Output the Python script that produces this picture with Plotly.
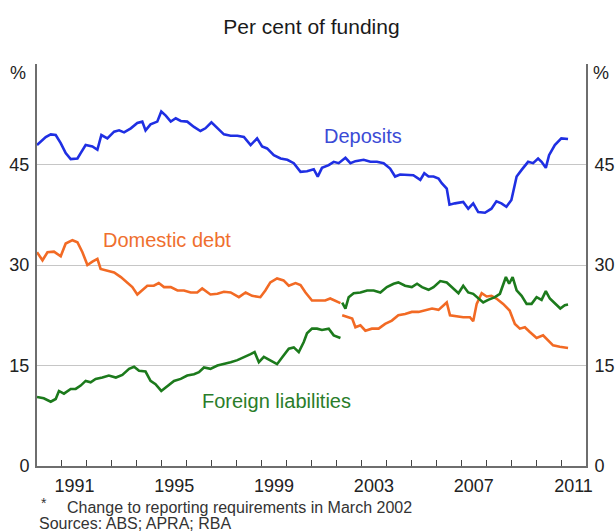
import plotly.graph_objects as go

# ---------------- data ----------------
dep_year = [1990.00, 1990.35, 1990.55, 1990.75, 1990.95, 1991.15, 1991.35, 1991.62, 1991.75, 1991.95,
            1992.22, 1992.42, 1992.58, 1992.82, 1993.09, 1993.29, 1993.49, 1993.76, 1994.02, 1994.22,
            1994.35, 1994.55, 1994.82, 1994.98, 1995.16, 1995.36, 1995.56, 1995.76, 1996.02, 1996.29,
            1996.55, 1996.75, 1996.99, 1997.23, 1997.49, 1997.76, 1998.03, 1998.29, 1998.56, 1998.82,
            1999.02, 1999.22, 1999.49, 1999.76, 2000.03, 2000.29, 2000.56, 2000.82, 2001.09, 2001.25,
            2001.42, 2001.69, 2001.89, 2002.09, 2002.36, 2002.56, 2002.76, 2003.09, 2003.36, 2003.62,
            2003.89, 2004.15, 2004.35, 2004.55, 2004.82, 2005.08, 2005.36, 2005.52, 2005.69, 2005.89,
            2006.09, 2006.22, 2006.42, 2006.53, 2006.75, 2007.08, 2007.28, 2007.48, 2007.68, 2007.95,
            2008.21, 2008.41, 2008.61, 2008.81, 2009.01, 2009.22, 2009.42, 2009.68, 2009.88, 2010.08,
            2010.22, 2010.39, 2010.52, 2010.75, 2011.01, 2011.28]
dep_val = [47.9, 49.1, 49.5, 49.4, 48.2, 46.7, 45.8, 45.9, 46.7, 47.9,
           47.7, 47.2, 49.4, 48.9, 49.9, 50.1, 49.8, 50.4, 51.2, 51.4,
           50.1, 51.0, 51.4, 52.9, 52.3, 51.4, 51.9, 51.5, 51.4, 50.6,
           50.0, 50.4, 51.3, 50.4, 49.5, 49.3, 49.3, 49.1, 47.9, 48.9,
           47.7, 47.4, 46.4, 45.9, 45.7, 45.2, 43.9, 44.0, 44.3, 43.2,
           44.5, 44.9, 45.4, 45.2, 46.0, 45.2, 45.5, 45.7, 45.4, 45.4,
           45.2, 44.4, 43.2, 43.5, 43.4, 43.4, 42.7, 43.7, 43.2, 43.2,
           42.9, 42.2, 41.4, 39.0, 39.2, 39.4, 38.4, 39.2, 37.9, 37.8,
           38.4, 39.5, 39.2, 38.7, 39.7, 43.2, 44.2, 45.4, 45.2, 45.9,
           45.4, 44.5, 46.4, 47.9, 48.9, 48.8]

dom_year_pre = [1990.00, 1990.22, 1990.42, 1990.68, 1990.95, 1991.15, 1991.42, 1991.62, 1991.82, 1992.02,
                1992.22, 1992.42, 1992.55, 1992.82, 1993.09, 1993.36, 1993.62, 1993.82, 1994.02, 1994.22,
                1994.42, 1994.68, 1994.88, 1995.09, 1995.36, 1995.63, 1995.89, 1996.16, 1996.42, 1996.62,
                1996.95, 1997.23, 1997.49, 1997.76, 1998.09, 1998.36, 1998.62, 1998.95, 1999.15, 1999.35,
                1999.62, 1999.88, 2000.09, 2000.36, 2000.56, 2000.76, 2001.02, 2001.29, 2001.55, 2001.75,
                2001.95, 2002.16]
dom_val_pre = [31.9, 30.7, 31.9, 32.0, 31.3, 33.2, 33.7, 33.4, 31.9, 30.0,
               30.5, 30.9, 29.4, 29.2, 28.9, 28.2, 27.4, 26.7, 25.6, 26.2,
               26.9, 26.9, 27.3, 26.7, 26.7, 26.2, 26.2, 25.9, 25.9, 26.5,
               25.6, 25.7, 26.0, 25.9, 25.2, 25.9, 25.4, 25.2, 26.2, 27.4,
               28.0, 27.7, 26.9, 27.3, 27.0, 25.9, 24.7, 24.7, 24.7, 25.0,
               24.7, 24.3]
dom_year_post = [2002.23, 2002.43, 2002.63, 2002.76, 2002.96, 2003.16, 2003.42, 2003.69, 2003.95, 2004.22,
                 2004.48, 2004.75, 2005.02, 2005.29, 2005.56, 2005.83, 2006.09, 2006.29, 2006.42, 2006.55,
                 2006.82, 2007.08, 2007.35, 2007.48, 2007.62, 2007.82, 2008.02, 2008.21, 2008.41, 2008.68,
                 2008.94, 2009.15, 2009.35, 2009.55, 2009.75, 2010.02, 2010.28, 2010.48, 2010.68, 2010.95,
                 2011.28]
dom_val_post = [22.5, 22.2, 22.0, 20.7, 21.0, 20.2, 20.5, 20.5, 21.2, 21.7,
                22.5, 22.7, 23.0, 23.0, 23.2, 23.5, 23.3, 24.0, 24.4, 22.5,
                22.3, 22.2, 22.2, 21.6, 24.2, 25.8, 25.3, 25.4, 25.0, 24.2,
                23.2, 21.2, 20.5, 20.7, 20.0, 19.1, 19.5, 18.7, 18.0, 17.8,
                17.6]

for_year_pre = [1990.00, 1990.27, 1990.55, 1990.75, 1990.88, 1991.08, 1991.35, 1991.55, 1991.75, 1991.95,
                1992.15, 1992.35, 1992.62, 1992.88, 1993.16, 1993.42, 1993.69, 1993.89, 1994.09, 1994.35,
                1994.55, 1994.75, 1994.98, 1995.23, 1995.49, 1995.76, 1996.02, 1996.29, 1996.49, 1996.69,
                1996.95, 1997.23, 1997.49, 1997.76, 1998.03, 1998.29, 1998.56, 1998.72, 1998.89, 1999.09,
                1999.35, 1999.62, 1999.82, 2000.09, 2000.29, 2000.49, 2000.69, 2000.82, 2001.02, 2001.22,
                2001.42, 2001.69, 2001.89, 2002.16]
for_val_pre = [10.3, 10.1, 9.6, 10.0, 11.2, 10.8, 11.5, 11.5, 12.0, 12.7,
               12.5, 13.0, 13.2, 13.5, 13.2, 13.6, 14.5, 14.8, 14.2, 14.1,
               12.7, 12.2, 11.2, 12.0, 12.7, 13.0, 13.5, 13.7, 14.0, 14.7,
               14.5, 15.0, 15.2, 15.5, 15.8, 16.2, 16.7, 17.0, 15.5, 16.3,
               15.8, 15.2, 16.2, 17.5, 17.7, 17.0, 18.5, 19.8, 20.5, 20.5,
               20.3, 20.5, 19.5, 19.1]
for_year_post = [2002.23, 2002.36, 2002.49, 2002.69, 2002.96, 2003.23, 2003.49, 2003.76, 2004.02, 2004.29,
                 2004.48, 2004.75, 2005.02, 2005.23, 2005.43, 2005.69, 2005.89, 2006.16, 2006.42, 2006.69,
                 2006.89, 2007.08, 2007.28, 2007.48, 2007.68, 2007.88, 2008.08, 2008.35, 2008.55, 2008.68,
                 2008.79, 2008.92, 2009.06, 2009.22, 2009.42, 2009.62, 2009.82, 2010.02, 2010.22, 2010.39,
                 2010.55, 2010.75, 2010.97, 2011.15, 2011.28]
for_val_post = [24.4, 23.5, 25.2, 25.8, 25.9, 26.2, 26.2, 25.9, 26.7, 27.2,
                27.4, 26.9, 26.7, 27.2, 26.7, 26.3, 26.7, 27.6, 27.4, 26.5,
                25.8, 26.9, 25.9, 25.7, 25.0, 24.4, 24.8, 25.2, 25.7, 27.2,
                28.2, 27.2, 28.2, 26.2, 25.4, 24.2, 24.2, 25.2, 24.8, 26.1,
                25.0, 24.3, 23.5, 24.0, 24.1]

year_ticks = list(range(1991, 2012))
year_labels = ["1991", "1995", "1999", "2003", "2007", "2011"]
y_ticks = [0, 15, 30, 45, 60]
y_labels = ["0", "15", "30", "45", ""]

# ---------------- styles ----------------
BLUE = "#1f2fe3"
ORANGE = "#f26a24"
GREEN = "#1c7a1c"
FONT = "Liberation Sans, Arial, sans-serif"
TXT = "#222222"

fig = go.Figure()
line_w = 2.6
# deposits drawn against the right-hand (mirrored) value axis, which has the same range
fig.add_trace(go.Scatter(x=dep_year, y=dep_val, mode="lines", line=dict(color=BLUE, width=line_w),
                         yaxis="y2", hoverinfo="skip"))
fig.add_trace(go.Scatter(x=dom_year_pre, y=dom_val_pre, mode="lines", line=dict(color=ORANGE, width=line_w), hoverinfo="skip"))
fig.add_trace(go.Scatter(x=dom_year_post, y=dom_val_post, mode="lines", line=dict(color=ORANGE, width=line_w), hoverinfo="skip"))
fig.add_trace(go.Scatter(x=for_year_pre, y=for_val_pre, mode="lines", line=dict(color=GREEN, width=line_w), hoverinfo="skip"))
fig.add_trace(go.Scatter(x=for_year_post, y=for_val_post, mode="lines", line=dict(color=GREEN, width=line_w), hoverinfo="skip"))

label_pos = [x + 0.5 for x in range(1991, 2012, 4)]

fig.update_layout(
    template="none",
    width=616, height=532,
    margin=dict(l=37, r=30, t=64, b=66, autoexpand=False),
    paper_bgcolor="white", plot_bgcolor="white",
    showlegend=False,
    font=dict(family=FONT, size=18, color=TXT),
    title=dict(text="Per cent of funding", x=0.5, xref="paper", xanchor="center",
               y=1 - 27 / 532, yref="container", yanchor="middle",
               font=dict(size=21, color="#1a1a1a")),
    xaxis=dict(range=[1990, 2012], tickvals=label_pos, ticktext=year_labels,
               ticks="outside", ticklen=3, tickcolor="rgba(0,0,0,0)",
               tickfont=dict(size=18, color=TXT),
               minor=dict(tickvals=year_ticks, ticks="inside", ticklen=6, tickwidth=1.2,
                          tickcolor="#444444", showgrid=False),
               showgrid=False, showline=True, linecolor="#6e6e6e", linewidth=1.5,
               zeroline=False, automargin=False, layer="above traces"),
    yaxis=dict(range=[0, 60], tickvals=y_ticks, ticktext=y_labels, ticks="outside", ticklen=2,
               tickcolor="rgba(0,0,0,0)", showgrid=True, gridcolor="#c6c6c6", gridwidth=1,
               showline=True, linecolor="#6e6e6e", linewidth=2, mirror=True, zeroline=False,
               tickfont=dict(size=18, color=TXT), automargin=False),
    yaxis2=dict(overlaying="y", anchor="x", side="right", range=[0, 60], tickvals=y_ticks,
                ticktext=y_labels, ticks="outside", ticklen=4, tickcolor="rgba(0,0,0,0)",
                showgrid=False, showline=False, zeroline=False,
                tickfont=dict(size=18, color=TXT), automargin=False),
)

# series labels
fig.add_annotation(x=2003.07, y=49.3, text="Deposits", showarrow=False,
                   font=dict(size=20, color="#3b4bd6"), xanchor="center", yanchor="middle")
fig.add_annotation(x=1995.22, y=33.7, text="Domestic debt", showarrow=False,
                   font=dict(size=20, color="#ef6f2e"), xanchor="center", yanchor="middle")
fig.add_annotation(x=1999.59, y=9.7, text="Foreign liabilities", showarrow=False,
                   font=dict(size=20, color="#2a7d2a"), xanchor="center", yanchor="middle")

# % unit labels
fig.add_annotation(x=-0.034, y=0.978, xref="paper", yref="paper", text="%", showarrow=False,
                   font=dict(size=18, color=TXT), xanchor="center", yanchor="middle")
fig.add_annotation(x=1.027, y=0.978, xref="paper", yref="paper", text="%", showarrow=False,
                   font=dict(size=18, color=TXT), xanchor="center", yanchor="middle")

# footnotes
fig.add_annotation(x=0.003, y=-0.092, xref="paper", yref="paper", text="*", showarrow=False,
                   font=dict(size=14, color="#333333"), xanchor="left", yanchor="middle")
fig.add_annotation(x=0.051, y=-0.102, xref="paper", yref="paper",
                   text="Change to reporting requirements in March 2002", showarrow=False,
                   font=dict(size=16, color="#333333"), xanchor="left", yanchor="middle")
fig.add_annotation(x=0.0, y=-0.142, xref="paper", yref="paper",
                   text="Sources: ABS; APRA; RBA", showarrow=False,
                   font=dict(size=16, color="#333333"), xanchor="left", yanchor="middle")

fig.write_html("out.html",
               config={"displayModeBar": False},
               post_script="document.body.style.margin='0';document.body.style.overflow='hidden';")
